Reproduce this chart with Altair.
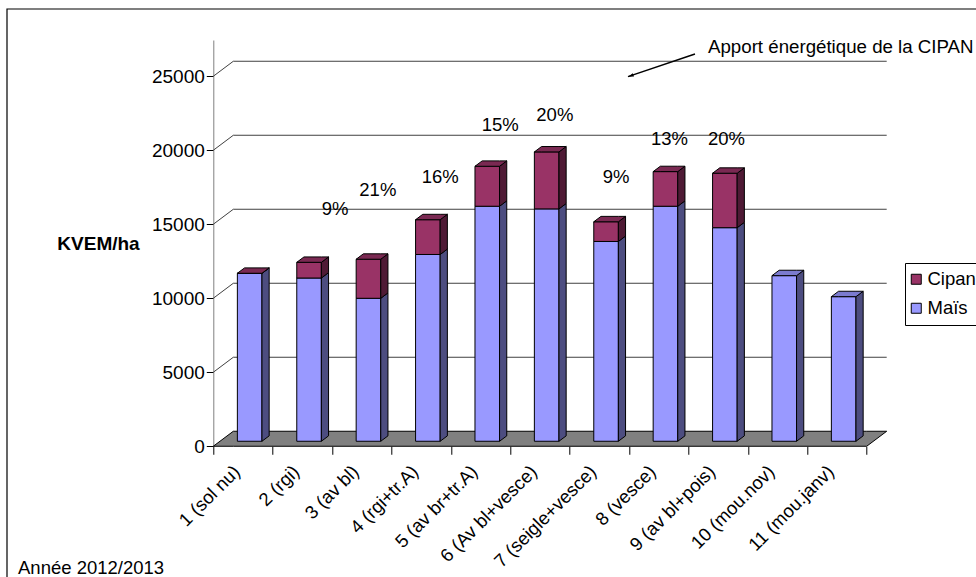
import json
import altair as alt
import pandas as pd

# ---- data -------------------------------------------------------------
categories = ["1 (sol nu)", "2 (rgi)", "3 (av bl)", "4 (rgi+tr.A)", "5 (av br+tr.A)",
              "6 (Av bl+vesce)", "7 (seigle+vesce)", "8 (vesce)", "9 (av bl+pois)",
              "10 (mou.nov)", "11 (mou.janv)"]
mais = [11350, 11030, 9660, 12620, 15880, 15700, 13500, 15880, 14430, 11190, 9770]
cipan = [0, 1060, 2640, 2350, 2700, 3850, 1330, 2340, 3680, None, None]
y_ticks = [0, 5000, 10000, 15000, 20000, 25000]

# where the share labels sit (category units / KVEM units)
pct_anchor_x = [None, 2.05, 2.77, 3.82, 4.83, 5.75, 6.78, 7.68, 8.64, None, None]
pct_anchor_y = [None, 15630, 16930, 17810, 21320, 22000, 17810, 20360, 20360, None, None]

# ---- geometry of the pseudo-3D frame -----------------------------------
PX_X = 59.4            # pixels per category
PX_Y = 0.0148          # pixels per KVEM
N = len(categories)
DXU = 20 / PX_X        # wall depth, horizontal (category units)
DYU = 15 / PX_Y        # wall depth, vertical (KVEM units)
Y_TOP = 27450
W = (N + DXU) * PX_X
H = Y_TOP * PX_Y
PAD_L, PAD_T = 213.3, 40

F0 = 1 / 3             # depth of the bar front faces
BD = 0.36              # bar depth
HW = 0.207             # half width of a bar
fx, fy = F0 * DXU, F0 * DYU
bx, by = BD * DXU, BD * DYU

FONT = "Liberation Sans"

fronts, polys = [], []
for i, (m, c) in enumerate(zip(mais, cipan)):
    xl = i + 0.5 + fx - HW
    xr = xl + 2 * HW
    segs = [("Maïs", 0, m)]
    if c is not None:
        segs.append(("Cipan", m, m + c))
    for s, (key, lo, hi) in enumerate(segs):
        fronts.append(dict(x=xl, x2=xr, y=fy + lo, y2=fy + hi, face=key))
        pid = f"side{i}_{s}"
        polys += [
            dict(poly=pid, x=xr, y=fy + lo, y2=fy + hi, face=key + " side"),
            dict(poly=pid, x=xr + bx, y=fy + lo + by, y2=fy + hi + by, face=key + " side"),
        ]
    key, top = segs[-1][0], fy + segs[-1][2]
    pid = f"top{i}"
    polys += [
        dict(poly=pid, x=xl, y=top, y2=top, face=key + " top"),
        dict(poly=pid, x=xl + bx, y=top, y2=top + by, face=key + " top"),
        dict(poly=pid, x=xr, y=top, y2=top + by, face=key + " top"),
        dict(poly=pid, x=xr + bx, y=top + by, y2=top + by, face=key + " top"),
    ]

floor = pd.DataFrame([
    dict(poly="floor", x=0, y=0, y2=0, face="floor"),
    dict(poly="floor", x=DXU, y=0, y2=DYU, face="floor"),
    dict(poly="floor", x=N, y=0, y2=DYU, face="floor"),
    dict(poly="floor", x=N + DXU, y=DYU, y2=DYU, face="floor"),
])

grid_rows = []
for v in y_ticks[1:]:
    grid_rows += [dict(g=v, x=0, y=v), dict(g=v, x=DXU, y=v + DYU),
                  dict(g=v, x=N + DXU, y=v + DYU)]
grid = pd.DataFrame(grid_rows)

pct_rows = []
for i, (m, c) in enumerate(zip(mais, cipan)):
    if c:
        pct_rows.append(dict(x=pct_anchor_x[i], y=pct_anchor_y[i],
                             label=f"{round(100 * c / (m + c))}%"))
pct = pd.DataFrame(pct_rows)

# ---- scales, axes, legend ----------------------------------------------
xscale = alt.Scale(domain=[0, N + DXU], nice=False, zero=False)
yscale = alt.Scale(domain=[0, Y_TOP], nice=False)
xaxis = alt.Axis(values=list(range(N + 1)),
                 labelExpr=f"{json.dumps(categories, ensure_ascii=False)}[datum.value] || ''",
                 labelAngle=-45, labelAlign="right", labelBaseline="middle",
                 labelOffset=23, labelPadding=14, labelFontSize=18.5, labelFont=FONT,
                 labelColor="black", labelOverlap=False, tickSize=8, tickColor="black",
                 domain=False, grid=False, title=None)
yaxis = alt.Axis(values=y_ticks, format="d", labelFontSize=19, labelFont=FONT,
                 labelColor="black", labelPadding=2, tickSize=7, tickColor="black",
                 domainColor="#808080", grid=False, title="KVEM/ha",
                 titleAngle=0, titleFont=FONT, titleFontSize=19, titleFontWeight="bold",
                 titleColor="black", titleAlign="center", titleBaseline="middle",
                 titleX=98 - PAD_L, titleY=203)

face_keys = ["Cipan", "Maïs", "Cipan side", "Maïs side", "Cipan top", "Maïs top", "floor"]
face_cols = ["#993366", "#9999FF", "#4F1A35", "#4D4D80", "#7A2952", "#7B7BCF", "#808080"]
legend = alt.Legend(title=None, values=["Cipan", "Maïs"], orient="none",
                    legendX=905 - PAD_L, legendY=263 - PAD_T, strokeColor="black",
                    fillColor="white", padding=7, symbolType="square", symbolSize=100,
                    symbolOffset=-5, symbolStrokeColor="black", symbolStrokeWidth=1,
                    labelFontSize=18.5, labelFont=FONT, labelColor="black",
                    rowPadding=10, labelOffset=2)
fill = alt.Fill("face:N", scale=alt.Scale(domain=face_keys, range=face_cols), legend=legend)


def X(field="x"):
    return alt.X(f"{field}:Q", scale=xscale, axis=xaxis)


def Y(field="y"):
    return alt.Y(f"{field}:Q", scale=yscale, axis=yaxis)


grid_layer = alt.Chart(grid).mark_line(color="#404040", strokeWidth=1).encode(
    x=X(), y=Y(), detail="g:N")

floor_layer = alt.Chart(floor).mark_area(stroke="black", strokeWidth=1).encode(
    x=X(), y=Y(), y2="y2:Q", detail="poly:N", fill=fill)

front_layer = alt.Chart(pd.DataFrame(fronts)).mark_rect(stroke="black", strokeWidth=1).encode(
    x=X(), x2="x2:Q", y=Y(), y2="y2:Q", fill=fill)

face_layer = alt.Chart(pd.DataFrame(polys)).mark_area(stroke="black", strokeWidth=1).encode(
    x=X(), y=Y(), y2="y2:Q", detail="poly:N", fill=fill)

pct_layer = alt.Chart(pct).mark_text(font=FONT, fontSize=18.5, color="black",
                                     align="center", baseline="alphabetic").encode(
    x=X(), y=Y(), text="label:N")

# annotation with its arrow
note = pd.DataFrame([dict(x=8.328, y=26595, label="Apport énergétique de la CIPAN")])
note_layer = alt.Chart(note).mark_text(font=FONT, fontSize=18.7, color="black",
                                       align="left", baseline="alphabetic").encode(
    x=X(), y=Y(), text="label:N")
arrow = pd.DataFrame([dict(x=8.109, y=26507, x2=6.981, y2=24973)])
arrow_line = alt.Chart(arrow).mark_rule(color="black", strokeWidth=1.5).encode(
    x=X(), y=Y(), x2="x2:Q", y2="y2:Q")
arrow_head = alt.Chart(arrow).mark_point(shape="M0,0L0.32,1.1L-0.32,1.1Z", filled=True,
                                         color="black", opacity=1, size=110,
                                         angle=251.3).encode(
    x=alt.X("x2:Q", scale=xscale, axis=xaxis), y=alt.Y("y2:Q", scale=yscale, axis=yaxis))

one = pd.DataFrame({"k": [0]})
frame = alt.Chart(one).mark_rect(fill="transparent", stroke="black", strokeWidth=1.2).encode(
    x=alt.value(7 - PAD_L), x2=alt.value(976 - PAD_L + 20),
    y=alt.value(9 - PAD_T), y2=alt.value(577 - PAD_T + 20))
footer = alt.Chart(one).mark_text(text="Année 2012/2013", font=FONT, fontSize=18.5,
                                  color="black", align="left", baseline="alphabetic").encode(
    x=alt.value(18 - PAD_L), y=alt.value(574 - PAD_T))

chart = alt.layer(
    frame, grid_layer, floor_layer, front_layer, face_layer, pct_layer,
    note_layer, arrow_line, arrow_head, footer,
).properties(
    width=W, height=H, autosize="none",
    padding={"left": PAD_L, "top": PAD_T, "right": 976 - PAD_L - W, "bottom": 577 - PAD_T - H},
    background="white",
).configure_view(stroke=None)

chart.save("out.html", embed_options={"renderer": "svg", "actions": False})
